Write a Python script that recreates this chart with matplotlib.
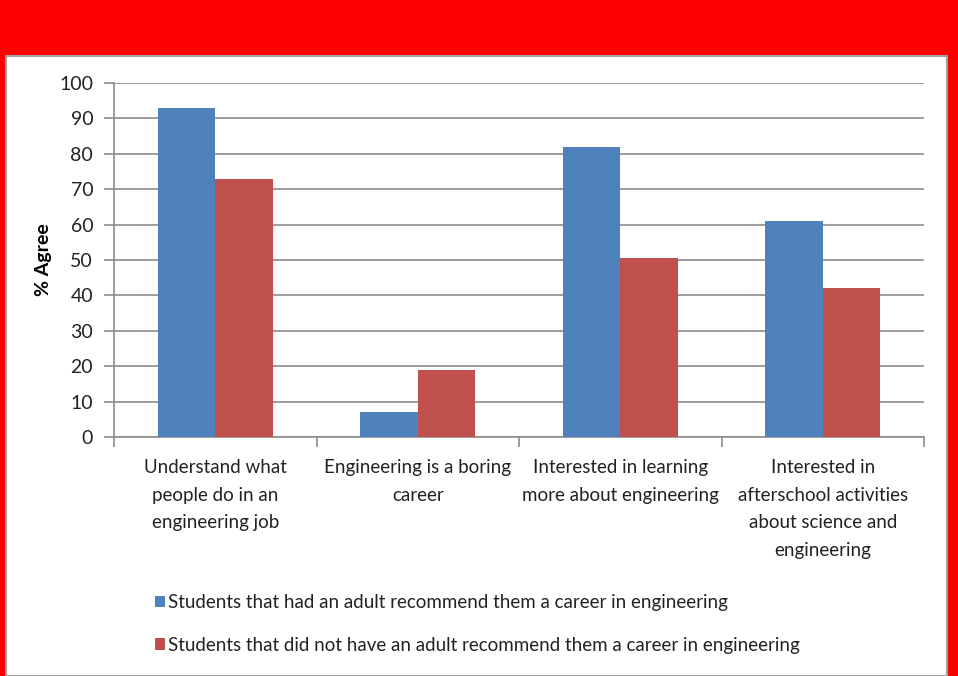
import numpy as np
import matplotlib.pyplot as plt
from matplotlib.patches import Rectangle, Patch

plt.rcParams['font.family'] = ['Lato', 'DejaVu Sans']

categories = [
    "Understand what\npeople do in an\nengineering job",
    "Engineering is a boring\ncareer",
    "Interested in learning\nmore about engineering",
    "Interested in\nafterschool activities\nabout science and\nengineering",
]
recommended = [93, 7, 82, 61]
not_recommended = [73, 19, 50.5, 42]
series_names = [
    "Students that had an adult recommend them a career in engineering",
    "Students that did not have an adult recommend them a career in engineering",
]

blue = "#4F81BD"
red = "#C0504D"
grid_gray = "#8C8C8C"

fig = plt.figure(figsize=(9.58, 6.76), dpi=100, facecolor="#FF0000")

# white chart panel on the red slide background
panel = Rectangle((6 / 958, 0), 941 / 958, 1 - 56 / 676, transform=fig.transFigure,
                  facecolor="white", edgecolor="#A0A0A0", linewidth=1.5, zorder=-1)
fig.patches.append(panel)

ax = fig.add_axes([114 / 958, 1 - 437 / 676, 810 / 958, (437 - 83) / 676])
ax.set_facecolor("none")

x = np.arange(len(categories))
w = 0.284
ax.bar(x - w / 2, recommended, w, color=blue, zorder=3)
ax.bar(x + w / 2, not_recommended, w, color=red, zorder=3)

ax.set_xlim(-0.5, len(categories) - 0.5)
ax.set_ylim(0, 100)
ax.set_yticks(np.arange(0, 101, 10))
ax.yaxis.grid(True, color=grid_gray, linewidth=1.2, zorder=0)
ax.set_axisbelow(True)

for s in ["top", "right"]:
    ax.spines[s].set_visible(False)
for s in ["left", "bottom"]:
    ax.spines[s].set_color(grid_gray)
    ax.spines[s].set_linewidth(1.2)

ax.set_xticks(x)
ax.set_xticklabels(categories, fontsize=13.5, color="#222222")
for t in ax.get_xticklabels():
    t.set_linespacing(1.75)
ax.tick_params(axis="x", which="major", length=0, pad=16)
ax.set_xticks(np.arange(-0.5, len(categories), 1), minor=True)
ax.tick_params(axis="x", which="minor", length=7, color=grid_gray, width=1.2)
ax.tick_params(axis="y", length=7, color=grid_gray, width=1.2, labelsize=14,
               labelcolor="#222222", pad=8)

ax.set_ylabel("% Agree", fontsize=14, fontweight="bold")
ax.yaxis.set_label_coords(-0.077, 0.5)

handles = [Patch(facecolor=blue), Patch(facecolor=red)]
fig.legend(handles, series_names, loc="upper left",
           bbox_to_anchor=(138 / 958, 1 - 577 / 676), frameon=False,
           fontsize=13.5, handlelength=0.55, handleheight=0.55, handletextpad=0.15,
           labelspacing=1.38, labelcolor="#222222")

fig.savefig("out.png", dpi=100, facecolor=fig.get_facecolor())
